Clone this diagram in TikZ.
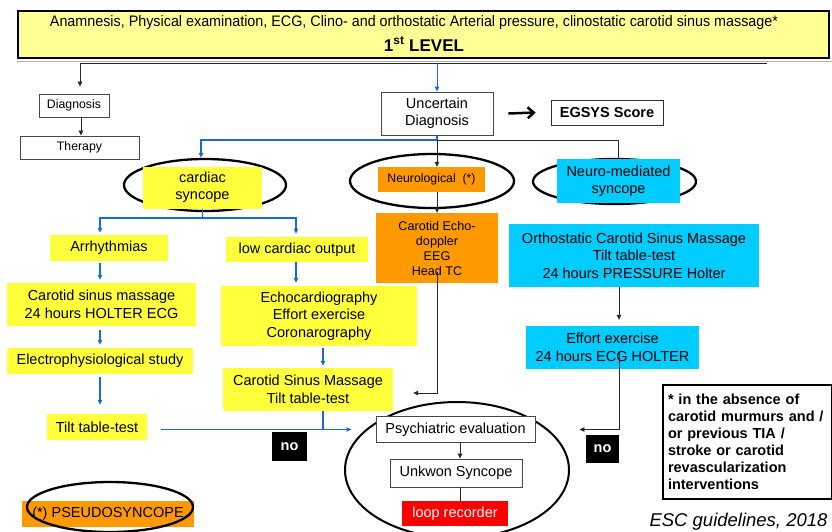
\documentclass[tikz,border=0pt]{standalone}
\usepackage{fontspec}
\setmainfont{Liberation Sans}
\usetikzlibrary{shapes.geometric,arrows.meta,calc}
\definecolor{topyel}{RGB}{255,255,150}
\definecolor{yel}{RGB}{255,255,60}
\definecolor{org}{RGB}{255,153,0}
\definecolor{cya}{RGB}{0,204,255}
\definecolor{bl}{RGB}{25,105,215}
\definecolor{gr}{RGB}{70,70,70}
\definecolor{lred}{RGB}{255,0,0}
\begin{document}
\begin{tikzpicture}[x=1pt,y=-1pt,
 box/.style={rectangle, inner sep=0pt, align=center, font=\fontsize{14.5}{17.4}\selectfont},
 wbox/.style={box, draw=gr, line width=0.9pt, fill=white},
 ybox/.style={box, fill=yel},
 obox/.style={box, fill=org},
 cbox/.style={box, fill=cya},
 small/.style={font=\fontsize{12.3}{15}\selectfont},
 ell/.style={ellipse, draw=black, line width=2.3pt, inner sep=0pt},
 arr/.style={-{Triangle[length=5pt,width=4.5pt]}, line width=0.8pt, draw=black!85},
 barr/.style={-{Triangle[length=5pt,width=4.5pt]}, line width=1.3pt, draw=bl},
 bline/.style={line width=1.3pt, draw=bl},
 kline/.style={line width=0.8pt, draw=black!85},
 nobox/.style={box, fill=black, text=white, font=\fontsize{14.5}{17}\selectfont\bfseries},
]
\useasboundingbox (0,0) rectangle (832,531);

% top box
\draw[gray!60, line width=1.5pt] (17,61.5) -- (832,61.5);
\node[box, draw=black, line width=2.5pt, fill=topyel, minimum width=811, minimum height=47] (top) at (423.5,34.5) {};
\node[inner sep=0pt] (l1) at (414,23) {\resizebox{728pt}{11pt}{Anamnesis, Physical examination, ECG, Clino- and orthostatic Arterial pressure, clinostatic carotid sinus massage*}};
\node[inner sep=0pt, font=\fontsize{17}{20}\selectfont\bfseries] (l2) at (424,44) {1\textsuperscript{st} LEVEL};

\coordinate (hl) at (80,63);
\coordinate (hr) at (767,63);
\coordinate (hm) at (437,63);
\draw[kline] (hl) -- (hr);

% first row
\node[wbox, small, minimum width=70, minimum height=23] (diag) at (74,105.5) {Diagnosis};
\node[wbox, small, minimum width=119, minimum height=23] (ther) at (79.5,147.5) {Therapy};
\node[wbox, minimum width=112, minimum height=43] (unc) at (437,113.5) {Uncertain\\Diagnosis};
\node[wbox, draw=black!80, minimum width=112, minimum height=25, font=\fontsize{14.5}{17}\selectfont\bfseries] (egs) at (607,112.5) {EGSYS Score};

\draw[arr, shorten >=7pt] (hl) -- (hl |- diag.north);
\draw[barr, line width=1pt] (hm) -- (unc.north);
\draw[arr] ([xshift=7pt]diag.south) -- ([xshift=1.5pt]ther.north);
\draw[line width=2.5pt, -{Straight Barb[length=6pt,width=11pt]}] ([xshift=15pt]unc.east) -- ([xshift=-15pt]egs.west);

% ellipses (behind)
\node[ell, minimum width=162, minimum height=52] (cardE) at (205,185) {};
\node[ell, minimum width=164, minimum height=54] (neuE) at (432,181) {};
\node[ell, minimum width=163, minimum height=45] (nmE) at (614.5,181.5) {};

\node[ybox, minimum width=119, minimum height=42] (card) at (202.5,187.5) {cardiac\\syncope};
\node[obox, small, minimum width=107, minimum height=25] (neu) at (431.5,179.5) {Neurological\ \ (*)};
\node[cbox, minimum width=123, minimum height=44] (nm) at (618.5,181) {Neuro-mediated\\syncope};

\coordinate (split) at (437,140);
\draw[bline] (unc.south) -- (split);
\draw[barr] (split) -| ([xshift=-4pt]cardE.north);
\draw[kline] (split) -| (nm.north);
\draw[arr] (split) -- (split |- neu.north);

% cardiac branch
\node[ybox, minimum width=118, minimum height=26] (arh) at (109,248) {Arrhythmias};
\node[ybox, minimum width=142, minimum height=25] (low) at (297,249.5) {low cardiac output};
\node[ybox, minimum width=189, minimum height=43] (car) at (101.5,304.5) {Carotid sinus massage\\24 hours HOLTER ECG};
\node[ybox, minimum width=186, minimum height=26] (ele) at (100,361) {Electrophysiological study};
\node[ybox, minimum width=100, minimum height=26] (tilt) at (97,427) {Tilt table-test};
\node[ybox, minimum width=196, minimum height=60] (echo) at (319,316) {Echocardiography\\Effort exercise\\Coronarography};
\node[ybox, minimum width=170, minimum height=43] (csm) at (308,389.5) {Carotid Sinus Massage\\Tilt table-test};

\coordinate (csp) at (202.5,218);
\draw[bline] (card.south) -- (csp);
\draw[barr, shorten >=2pt] (csp) -| ([xshift=-9pt]arh.north);
\draw[barr, shorten >=3pt] (csp) -| ([xshift=-1pt]low.north);
\draw[barr, shorten <=2pt, shorten >=3pt] ([xshift=-9pt]arh.south) -- ([xshift=-1.5pt]car.north);
\draw[barr, shorten <=4pt, shorten >=3pt] ([xshift=-1.5pt]car.south) -- (ele.north);
\draw[barr, shorten <=3pt, shorten >=9pt] (ele.south) -- ([xshift=3pt]tilt.north);
\draw[barr, shorten >=3pt] ([xshift=-1pt]low.south) -- ([xshift=-23pt]echo.north);
\draw[barr, shorten <=2pt, shorten >=2pt] ([xshift=4pt]echo.south) -- ([xshift=15pt]csm.north);

% neurological branch
\node[obox, font=\fontsize{12.6}{15}\selectfont, minimum width=122, minimum height=70] (otest) at (437,248) {Carotid Echo-\\doppler\\EEG\\Head TC};
\draw[arr] ([xshift=5.5pt]neu.south) -- (otest.north);

% neuro-mediated branch
\node[cbox, minimum width=250, minimum height=63] (ort) at (634,255.5) {Orthostatic Carotid Sinus Massage\\Tilt table-test\\24 hours PRESSURE Holter};
\node[cbox, minimum width=173, minimum height=43] (eff) at (612.5,347.5) {Effort exercise\\24 hours ECG HOLTER};
\draw[arr, shorten >=6pt] ([xshift=-15pt]ort.south) -- ([xshift=6.5pt]eff.north);

% final ellipse
\node[ell, line width=2pt, minimum width=224, minimum height=136] (bigE) at (457,470) {};
\node[wbox, minimum width=159, minimum height=26] (psy) at (455.5,429.5) {Psychiatric evaluation};
\node[wbox, minimum width=132, minimum height=28] (unk) at (456,473) {Unkwon Syncope};
\node[box, fill=lred, text=white, minimum width=106, minimum height=25] (loop) at (455,513.5) {loop recorder};
\draw[arr] ([xshift=4.5pt]psy.south) -- ([xshift=4pt]unk.north);
\draw[kline] ([xshift=4pt]unk.south) -- ([xshift=5pt]loop.north);

% connectors to final
\draw[barr] ([xshift=14pt,yshift=-2.5pt]tilt.east) -- ([xshift=-24pt]psy.west);
\draw[bline] ([xshift=15pt]csm.south) -- ++(0,18);
\draw[arr] ([yshift=-24pt]otest.center) |- ([xshift=20pt,yshift=-3.5pt]csm.east);
\draw[arr] ([xshift=6.5pt,yshift=-5pt]eff.center) |- ([xshift=44pt]psy.east);

\node[nobox, minimum width=35, minimum height=29] (nol) at (289.5,446.5) {no};
\node[nobox, minimum width=33, minimum height=28] (nor) at (602.5,449) {no};

% note
\node[draw=black, line width=2pt, fill=white, inner xsep=5pt, inner ysep=0pt, text width=159pt, minimum height=114, align=left, font=\fontsize{14.5}{17}\selectfont\bfseries] (note) at (747.5,442) {* in the absence of\\carotid murmurs and /\\or previous TIA /\\stroke or carotid\\revascularization\\interventions};
\node[inner sep=0pt, font=\fontsize{18.5}{20}\selectfont\itshape] (esc) at (738.5,522) {ESC guidelines, 2018};

% pseudosyncope
\node[obox, minimum width=172, minimum height=26] (pseudo) at (108,514) {(*) PSEUDOSYNCOPE};
\node[ell, minimum width=166, minimum height=50] (pseE) at (110,507) {};
\end{tikzpicture}
\end{document}
